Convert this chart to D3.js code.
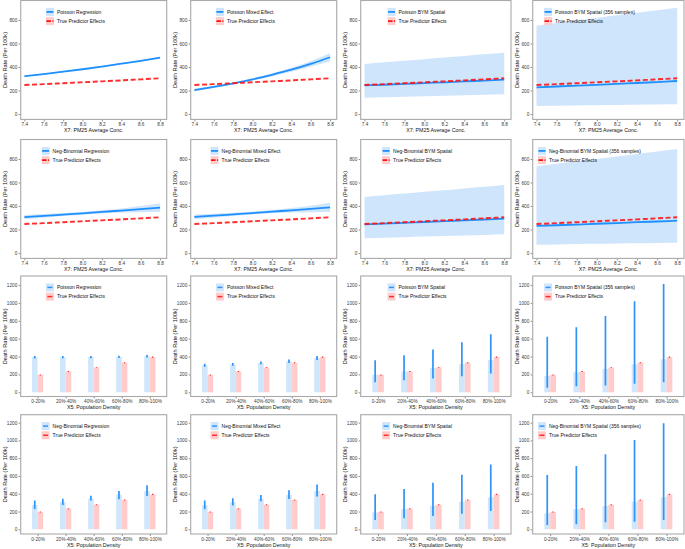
<!DOCTYPE html>
<html><head><meta charset="utf-8">
<script src="https://cdn.jsdelivr.net/npm/d3@7"></script>
<style>
body{margin:0;background:#fff}
svg{display:block}
</style>
</head><body>
<svg id="chart" width="685" height="549"></svg>
<script>
// ---------------- DATA ----------------
const pm25 = [7.4, 7.6, 7.8, 8.0, 8.2, 8.4, 8.6, 8.8];
const pm25Ticks = [7.4, 7.6, 7.8, 8.0, 8.2, 8.4, 8.6, 8.8];
const densityCats = ["0-20%", "20%-40%", "40%-60%", "60%-80%", "80%-100%"];
const rateTicksLine = [0, 200, 400, 600, 800];
const rateTicksBar = [0, 200, 400, 600, 800, 1000, 1200];

const modelsPoisson = ["Poisson Regression", "Poisson Mixed Effect", "Poisson BYM Spatial", "Poisson BYM Spatial (356 samples)"];
const modelsNegBin = ["Neg-Binomial Regression", "Neg-Binomial Mixed Effect", "Neg-Binomial BYM Spatial", "Neg-Binomial BYM Spatial (356 samples)"];
const trueLabel = "True Predictor Effects";
const xTitlePM = "X7: PM25 Average Conc.";
const xTitleDens = "X5: Population Density";
const yTitle = "Death Rate (Per 100k)";

// true effect of PM25 (line)
const truePM = [247, 254, 262, 270, 278, 286, 295, 304];

// estimated PM25 effects: estimate / lower / upper
const pmEstPoisReg = [321, 340, 360, 381, 404, 428, 453, 480];
const pmLoPoisReg  = [317, 336, 356, 377, 399, 423, 447, 473];
const pmHiPoisReg  = [325, 344, 364, 385, 409, 433, 459, 487];

const pmEstPoisMix = [204, 231, 261, 295, 334, 377, 427, 483];
const pmLoPoisMix  = [194, 222, 253, 286, 322, 360, 403, 450];
const pmHiPoisMix  = [214, 240, 269, 304, 346, 394, 451, 516];

const pmEstPoisBym = [243, 249, 256, 263, 270, 277, 284, 292];
const pmLoPoisBym  = [139, 143, 147, 151, 156, 160, 164, 168];
const pmHiPoisBym  = [426, 440, 453, 467, 481, 494, 508, 522];

const pmEstPoisBym356 = [227, 234, 241, 248, 256, 264, 272, 281];
const pmLoPoisBym356  = [68, 70, 72, 74, 76, 78, 80, 82];
const pmHiPoisBym356  = [752, 774, 796, 818, 840, 862, 884, 905];

const pmEstNbReg = [306, 316, 327, 338, 350, 361, 373, 386];
const pmLoNbReg  = [289, 301, 314, 326, 337, 344, 347, 348];
const pmHiNbReg  = [323, 331, 340, 350, 363, 378, 399, 424];

const pmEstNbMix = [308, 318, 329, 340, 352, 363, 375, 388];
const pmLoNbMix  = [288, 301, 315, 327, 338, 344, 347, 348];
const pmHiNbMix  = [328, 335, 343, 353, 366, 382, 403, 428];

const pmEstNbBym = [244, 250, 257, 264, 271, 278, 285, 292];
const pmLoNbBym  = [125, 130, 135, 140, 144, 149, 154, 159];
const pmHiNbBym  = [477, 492, 506, 521, 535, 550, 564, 579];

const pmEstNbBym356 = [230, 236, 242, 249, 255, 262, 268, 275];
const pmLoNbBym356  = [71, 73, 76, 78, 81, 83, 86, 88];
const pmHiNbBym356  = [738, 759, 780, 801, 822, 843, 864, 885];

// true effect of population density (bars)
const trueDens   = [195, 232, 276, 330, 393];
const trueDensLo = [189, 227, 271, 325, 387];
const trueDensHi = [200, 237, 281, 335, 399];

// estimated density effects: estimate / lower / upper
const dEstPoisReg = [392, 393, 394, 396, 403];
const dLoPoisReg  = [379, 380, 382, 383, 388];
const dHiPoisReg  = [406, 407, 407, 410, 418];

const dEstPoisMix = [302, 312, 328, 346, 382];
const dLoPoisMix  = [285, 297, 313, 328, 360];
const dHiPoisMix  = [320, 328, 345, 366, 406];

const dEstPoisBym = [197, 233, 270, 315, 362];
const dLoPoisBym  = [112, 134, 153, 179, 209];
const dHiPoisBym  = [358, 414, 478, 560, 649];

const dEstPoisBym356 = [183, 224, 261, 313, 369];
const dLoPoisBym356  = [52, 67, 75, 97, 112];
const dHiPoisBym356  = [622, 727, 853, 1017, 1211];

const dEstNbReg = [274, 308, 345, 390, 431];
const dLoNbReg  = [229, 274, 323, 338, 375];
const dHiNbReg  = [323, 345, 379, 431, 495];

const dEstNbMix = [272, 306, 344, 388, 432];
const dLoNbMix  = [225, 268, 315, 340, 370];
const dHiNbMix  = [325, 350, 385, 440, 505];

const dEstNbBym = [190, 228, 265, 310, 360];
const dLoNbBym  = [105, 125, 150, 175, 205];
const dHiNbBym  = [395, 455, 525, 615, 730];

const dEstNbBym356 = [180, 225, 263, 311, 360];
const dLoNbBym356  = [49, 56, 79, 86, 105];
const dHiNbBym356  = [612, 713, 844, 1006, 1193];

// ---------------- LAYOUT / STYLE ----------------
const FONT = '"Liberation Sans", Arial, Helvetica, sans-serif';
const cols = [
  {L: 20.7, R: 166.7},
  {L: 190.7, R: 336.7},
  {L: 360.7, R: 511},
  {L: 532.7, R: 684}
];
const rows = [
  {top: 0.5,   bottom: 119.4, y0: 114,   yT: 20,    tv: 800},
  {top: 139.5, bottom: 258.4, y0: 253,   yT: 159,   tv: 800},
  {top: 276,   bottom: 396.5, y0: 392.3, yT: 285,   tv: 1200},
  {top: 414.7, bottom: 534,   y0: 529.3, yT: 422.7, tv: 1200}
];
const C = {
  blue: "#1E90FF", ribbon: "#cfe5fc", red: "#ff1010", pinkKey: "#ffcccc",
  barBlue: "#d0e6fb", barRed: "#ffcbcb", errBlue: "#2f93f7", errRed: "#ff2a2a",
  border: "#a9a9a9", tick: "#444", tickText: "#3a3a3a", title: "#111"
};
const FS = {tick: 4.7, legend: 5.0, xTitle: 5.3, yTitle: 5.6};

const svg = d3.select("#chart");
let clipId = 0;

function frame(ci, ri, yTicks, xTitle) {
  const c = cols[ci], r = rows[ri];
  const g = svg.append("g");
  const y = d3.scaleLinear().domain([0, r.tv]).range([r.y0, r.yT]);
  const id = "clip" + (clipId++);
  g.append("clipPath").attr("id", id).append("rect")
    .attr("x", c.L).attr("y", r.top).attr("width", c.R - c.L).attr("height", r.bottom - r.top);
  const plot = g.append("g").attr("clip-path", `url(#${id})`);
  const ya = g.append("g").attr("transform", `translate(${c.L},0)`)
    .call(d3.axisLeft(y).tickValues(yTicks).tickSize(2).tickPadding(1.4).tickFormat(d3.format("d")));
  ya.select(".domain").remove();
  ya.selectAll("line").attr("stroke", C.tick).attr("stroke-width", 0.6);
  ya.selectAll("text").attr("font-size", FS.tick).attr("fill", C.tickText).style("font-family", FONT);
  g.append("text")
    .attr("transform", `translate(${c.L - 15.8},${(r.top + r.bottom) / 2}) rotate(-90)`)
    .attr("text-anchor", "middle").attr("dy", "0.35em")
    .attr("font-size", FS.yTitle).attr("fill", C.title).style("font-family", FONT)
    .text(yTitle);
  g.append("text")
    .attr("x", (c.L + c.R) / 2).attr("y", r.bottom + 12.5)
    .attr("text-anchor", "middle")
    .attr("font-size", FS.xTitle).attr("fill", C.title).style("font-family", FONT)
    .text(xTitle);
  return {g, plot, y, c, r};
}

function xAxis(f, scale, ticks, fmt) {
  const xa = f.g.append("g").attr("transform", `translate(0,${f.r.bottom})`)
    .call(d3.axisBottom(scale).tickValues(ticks).tickSize(2).tickPadding(1.2).tickFormat(fmt));
  xa.select(".domain").remove();
  xa.selectAll("line").attr("stroke", C.tick).attr("stroke-width", 0.6);
  xa.selectAll("text").attr("font-size", FS.tick).attr("fill", C.tickText).style("font-family", FONT);
}

function border(f) {
  f.g.append("rect").attr("x", f.c.L).attr("y", f.r.top)
    .attr("width", f.c.R - f.c.L).attr("height", f.r.bottom - f.r.top)
    .attr("fill", "none").attr("stroke", C.border).attr("stroke-width", 1.1);
}

function legend(f, label, kind) {
  const fs = FS.legend, kw = 8, kh = 8, gap = 3;
  const labels = [label, trueLabel];
  const tmp = f.g.append("text").attr("font-size", fs).style("font-family", FONT);
  let maxW = 0;
  labels.forEach(t => { tmp.text(t); maxW = Math.max(maxW, tmp.node().getComputedTextLength()); });
  tmp.remove();
  const totalW = kw + gap + maxW;
  const cx = f.c.L + 0.375 * (f.c.R - f.c.L);
  const left = cx - totalW / 2;
  const ys = [f.r.top + 11.4, f.r.top + 20.6];
  const lg = f.g.append("g");
  ys.forEach((yc, i) => {
    lg.append("rect").attr("x", left).attr("y", yc - kh / 2).attr("width", kw).attr("height", kh)
      .attr("fill", i === 0 ? C.ribbon : C.pinkKey);
    if (kind === "line") {
      const ln = lg.append("line").attr("x1", left + 0.5).attr("x2", left + kw - 0.5)
        .attr("y1", yc).attr("y2", yc).attr("stroke-width", 1.8)
        .attr("stroke", i === 0 ? C.blue : C.red);
      if (i === 1) ln.attr("stroke-dasharray", "4.5,1.5");
    } else {
      lg.append("line").attr("x1", left + 1.5).attr("x2", left + kw - 1.5)
        .attr("y1", yc).attr("y2", yc).attr("stroke-width", 1.5)
        .attr("stroke", i === 0 ? C.errBlue : C.errRed);
    }
    lg.append("text").attr("x", left + kw + gap).attr("y", yc).attr("dy", "0.35em")
      .attr("font-size", fs).attr("fill", C.title).style("font-family", FONT)
      .text(labels[i]);
  });
}

function linePanel(ci, ri, name, est, lo, hi) {
  const f = frame(ci, ri, rateTicksLine, xTitlePM);
  const x = d3.scaleLinear().domain([7.362, 8.868]).range([f.c.L, f.c.R]);
  const pts = pm25.map((v, i) => ({x: v, est: est[i], lo: lo[i], hi: hi[i], tr: truePM[i]}));
  const area = d3.area().x(d => x(d.x)).y0(d => f.y(d.lo)).y1(d => f.y(d.hi)).curve(d3.curveMonotoneX);
  f.plot.append("path").datum(pts).attr("d", area).attr("fill", C.ribbon);
  const lEst = d3.line().x(d => x(d.x)).y(d => f.y(d.est)).curve(d3.curveMonotoneX);
  f.plot.append("path").datum(pts).attr("d", lEst).attr("fill", "none")
    .attr("stroke", C.blue).attr("stroke-width", 1.8);
  const lTrue = d3.line().x(d => x(d.x)).y(d => f.y(d.tr)).curve(d3.curveMonotoneX);
  f.plot.append("path").datum(pts).attr("d", lTrue).attr("fill", "none")
    .attr("stroke", C.red).attr("stroke-opacity", 0.88).attr("stroke-width", 1.9)
    .attr("stroke-dasharray", "5,2.6");
  xAxis(f, x, pm25Ticks, d3.format(".1f"));
  border(f);
  legend(f, name, "line");
}

function barPanel(ci, ri, name, est, lo, hi) {
  const f = frame(ci, ri, rateTicksBar, xTitleDens);
  const x = d3.scalePoint().domain(densityCats).range([f.c.L, f.c.R]).padding(0.6);
  const bw = 0.2 * x.step();
  const data = densityCats.map((k, i) => ({k, est: est[i], lo: lo[i], hi: hi[i],
    tr: trueDens[i], trLo: trueDensLo[i], trHi: trueDensHi[i]}));
  f.plot.selectAll(".bb").data(data).join("rect")
    .attr("x", d => x(d.k) - bw).attr("width", bw)
    .attr("y", d => f.y(d.est)).attr("height", d => f.y(0) - f.y(d.est))
    .attr("fill", C.barBlue);
  f.plot.selectAll(".br").data(data).join("rect")
    .attr("x", d => x(d.k)).attr("width", bw)
    .attr("y", d => f.y(d.tr)).attr("height", d => f.y(0) - f.y(d.tr))
    .attr("fill", C.barRed);
  f.plot.selectAll(".eb").data(data).join("line")
    .attr("x1", d => x(d.k) - bw / 2).attr("x2", d => x(d.k) - bw / 2)
    .attr("y1", d => f.y(d.lo)).attr("y2", d => f.y(d.hi))
    .attr("stroke", C.errBlue).attr("stroke-width", 1.7);
  f.plot.selectAll(".er").data(data).join("line")
    .attr("x1", d => x(d.k) + bw / 2).attr("x2", d => x(d.k) + bw / 2)
    .attr("y1", d => f.y(d.trLo)).attr("y2", d => f.y(d.trHi))
    .attr("stroke", C.errRed).attr("stroke-width", 1.4);
  xAxis(f, x, densityCats, d => d);
  border(f);
  legend(f, name, "bar");
}

linePanel(0, 0, modelsPoisson[0], pmEstPoisReg, pmLoPoisReg, pmHiPoisReg);
linePanel(1, 0, modelsPoisson[1], pmEstPoisMix, pmLoPoisMix, pmHiPoisMix);
linePanel(2, 0, modelsPoisson[2], pmEstPoisBym, pmLoPoisBym, pmHiPoisBym);
linePanel(3, 0, modelsPoisson[3], pmEstPoisBym356, pmLoPoisBym356, pmHiPoisBym356);

linePanel(0, 1, modelsNegBin[0], pmEstNbReg, pmLoNbReg, pmHiNbReg);
linePanel(1, 1, modelsNegBin[1], pmEstNbMix, pmLoNbMix, pmHiNbMix);
linePanel(2, 1, modelsNegBin[2], pmEstNbBym, pmLoNbBym, pmHiNbBym);
linePanel(3, 1, modelsNegBin[3], pmEstNbBym356, pmLoNbBym356, pmHiNbBym356);

barPanel(0, 2, modelsPoisson[0], dEstPoisReg, dLoPoisReg, dHiPoisReg);
barPanel(1, 2, modelsPoisson[1], dEstPoisMix, dLoPoisMix, dHiPoisMix);
barPanel(2, 2, modelsPoisson[2], dEstPoisBym, dLoPoisBym, dHiPoisBym);
barPanel(3, 2, modelsPoisson[3], dEstPoisBym356, dLoPoisBym356, dHiPoisBym356);

barPanel(0, 3, modelsNegBin[0], dEstNbReg, dLoNbReg, dHiNbReg);
barPanel(1, 3, modelsNegBin[1], dEstNbMix, dLoNbMix, dHiNbMix);
barPanel(2, 3, modelsNegBin[2], dEstNbBym, dLoNbBym, dHiNbBym);
barPanel(3, 3, modelsNegBin[3], dEstNbBym356, dLoNbBym356, dHiNbBym356);
</script>
</body></html>
